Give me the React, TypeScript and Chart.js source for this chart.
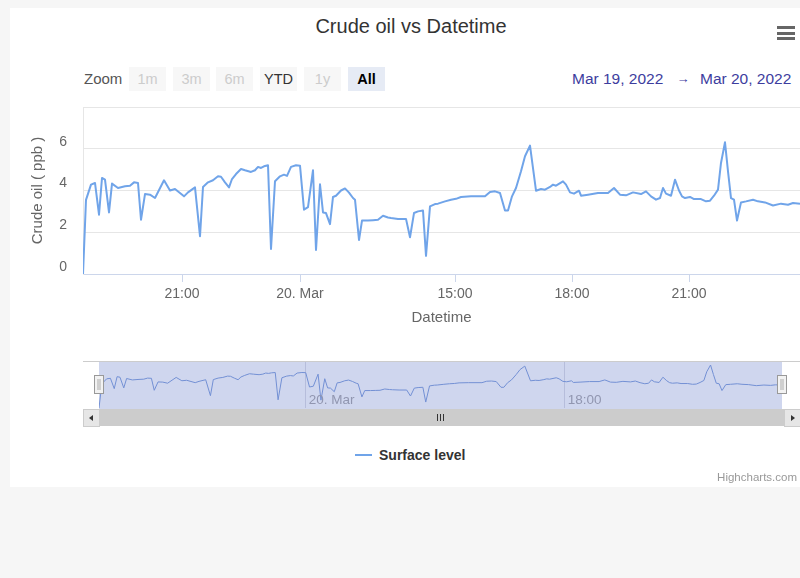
import React, { useEffect, useRef } from "react";
import { Chart, registerables } from "chart.js";

Chart.register(...registerables);

// ordinal (point-slot) position of each sample along the stock x-axis
const sampleIndex = [
  0, 3, 8, 12, 16, 19, 22, 26, 29, 35,
  42, 47, 51, 55, 58, 62, 67, 72, 81, 87,
  92, 101, 105, 112, 117, 120, 125, 130, 135, 138,
  142, 146, 149, 153, 158, 162, 168, 172, 175, 178,
  181, 185, 188, 192, 197, 201, 204, 208, 213, 217,
  221, 225, 230, 233, 237, 240, 243, 247, 250, 253,
  258, 262, 266, 270, 272, 276, 279, 285, 290, 295,
  300, 305, 308, 315, 323, 327, 331, 335, 340, 343,
  347, 352, 355, 362, 368, 373, 378, 388, 402, 407,
  412, 417, 422, 425, 429, 433, 438, 442, 447, 453,
  458, 462, 467, 470, 473, 480, 483, 487, 491, 496,
  498, 505, 515, 525, 531, 537, 543, 550, 558, 563,
  568, 573, 577, 580, 583, 588, 592, 596, 599, 602,
  607, 611, 618, 623, 627, 631, 635, 638, 642, 645,
  648, 651, 654, 658, 663, 670, 675, 682, 690, 698,
  705, 710, 717,
];

const crudeOil = [
  0, 3.55, 4.28, 4.36, 2.84, 4.6, 4.52, 2.95, 4.33, 4.12,
  4.2, 4.23, 4.39, 4.36, 2.6, 3.83, 3.8, 3.64, 4.49, 4.0,
  4.07, 3.72, 3.91, 4.15, 1.81, 4.17, 4.39, 4.49, 4.68, 4.66,
  4.39, 4.15, 4.55, 4.79, 5.03, 4.97, 4.89, 4.97, 5.13, 5.08,
  5.16, 5.21, 1.2, 4.44, 4.68, 4.76, 4.7, 5.13, 5.21, 5.19,
  3.08, 3.2, 4.97, 1.15, 4.3, 2.95, 2.92, 2.39, 3.69, 3.75,
  4.0, 4.1, 3.9, 3.64, 3.56, 1.63, 2.56, 2.56, 2.58, 2.6,
  2.79, 2.71, 2.68, 2.64, 2.64, 1.76, 2.92, 3.0, 3.04, 0.87,
  3.24, 3.35, 3.37, 3.48, 3.56, 3.6, 3.69, 3.72, 3.72, 3.93,
  3.96, 3.88, 3.04, 3.04, 3.72, 4.12, 4.92, 5.64, 6.15, 3.99,
  4.07, 4.04, 4.17, 4.28, 4.23, 4.44, 4.28, 3.91, 3.85, 3.99,
  3.75, 3.8, 3.88, 3.88, 4.12, 3.8, 3.77, 3.91, 3.83, 3.96,
  3.72, 3.56, 3.64, 4.12, 3.85, 3.75, 4.52, 4.0, 3.72, 3.64,
  3.69, 3.59, 3.59, 3.48, 3.51, 3.75, 4.04, 5.32, 6.31, 4.92,
  3.64, 3.56, 2.56, 3.43, 3.48, 3.56, 3.48, 3.43, 3.28, 3.37,
  3.32, 3.4, 3.37,
];

const xTickIndex = [99, 217, 372, 489, 606];
const xTickLabels = ["21:00", "20. Mar", "15:00", "18:00", "21:00"];
const navTickIndex = [217, 489];
const navTickLabels = ["20. Mar", "18:00"];
const yMin = 0;
const yMax = 8;
const yStep = 2;
const xMax = 717;

const titleText = "Crude oil vs Datetime";
const seriesName = "Surface level";
const xTitle = "Datetime";
const yTitle = "Crude oil ( ppb )";
const zoomButtons = ["1m", "3m", "6m", "YTD", "1y", "All"];
const zoomEnabled = [false, false, false, true, false, true];
const rangeFrom = "Mar 19, 2022";
const rangeTo = "Mar 20, 2022";

const FONT = '"Liberation Sans", Arial, Helvetica, sans-serif';
const LINE = "#70a4e9";
const NAVLINE = "#7390d4";

Chart.defaults.font.family = FONT;

function points() {
  return sampleIndex.map((x, i) => ({ x, y: crudeOil[i] }));
}

export default function App() {
  const mainRef = useRef<HTMLCanvasElement | null>(null);
  const navRef = useRef<HTMLCanvasElement | null>(null);

  useEffect(() => {
    if (!mainRef.current || !navRef.current) return;
    const main = new Chart(mainRef.current, {
      type: "line",
      data: {
        datasets: [
          {
            label: seriesName,
            data: points(),
            borderColor: LINE,
            borderWidth: 2,
            pointRadius: 0,
            tension: 0,
            fill: false,
            borderJoinStyle: "round",
          },
        ],
      },
      options: {
        animation: false,
        responsive: false,
        events: [],
        layout: { padding: { top: 107, right: 0, bottom: 10, left: 0 } },
        plugins: {
          legend: { display: false },
          tooltip: { enabled: false },
          title: { display: false },
        },
        scales: {
          x: {
            type: "linear",
            min: 0,
            max: xMax,
            afterBuildTicks: (s: any) => {
              s.ticks = xTickIndex.map((v) => ({ value: v }));
            },
            afterFit: (s: any) => {
              s.height = 56;
            },
            ticks: {
              autoSkip: false,
              maxRotation: 0,
              padding: 4,
              color: "#666666",
              font: { size: 14 },
              callback: (v: any) => {
                const i = xTickIndex.indexOf(Number(v));
                return i >= 0 ? xTickLabels[i] : "";
              },
            },
            grid: {
              drawOnChartArea: false,
              drawTicks: true,
              tickLength: 8,
              tickColor: "#ccd6eb",
            },
            border: { color: "#ccd6eb", width: 1 },
            title: {
              display: true,
              text: xTitle,
              color: "#666666",
              font: { size: 15 },
              padding: { top: 0, bottom: 3 },
            },
          },
          y: {
            min: yMin,
            max: yMax,
            afterFit: (s: any) => {
              s.width = 83;
            },
            ticks: {
              stepSize: yStep,
              padding: 16,
              labelOffset: -7,
              color: "#666666",
              font: { size: 14 },
              callback: (v: any) => (Number(v) === yMax ? "" : String(v)),
            },
            grid: { color: "#e6e6e6", drawTicks: false },
            border: { color: "#e6e6e6" },
            title: {
              display: true,
              text: yTitle,
              color: "#666666",
              font: { size: 15 },
              padding: { top: 29, bottom: 0 },
            },
          },
        },
      },
    } as any);

    const navLabels = {
      id: "navLabels",
      afterDraw(chart: any) {
        const { ctx, chartArea } = chart;
        const xs = chart.scales.x;
        ctx.save();
        ctx.font = `13.5px ${FONT}`;
        ctx.fillStyle = "#9196b0";
        ctx.textBaseline = "middle";
        ctx.textAlign = "left";
        navTickIndex.forEach((v, i) => {
          ctx.fillText(navTickLabels[i], xs.getPixelForValue(v) + 3, chartArea.bottom - 8);
        });
        ctx.restore();
      },
    };

    const nav = new Chart(navRef.current, {
      type: "line",
      data: {
        datasets: [
          {
            data: points(),
            borderColor: NAVLINE,
            borderWidth: 1,
            pointRadius: 0,
            tension: 0,
            fill: false,
          },
        ],
      },
      options: {
        animation: false,
        responsive: false,
        events: [],
        layout: { padding: 0 },
        plugins: { legend: { display: false }, tooltip: { enabled: false } },
        scales: {
          x: {
            type: "linear",
            min: 0,
            max: xMax,
            afterBuildTicks: (s: any) => {
              s.ticks = navTickIndex.map((v) => ({ value: v }));
            },
            afterFit: (s: any) => {
              s.height = 0;
            },
            ticks: { display: false },
            grid: { drawOnChartArea: true, drawTicks: false, color: "rgba(150,160,195,0.45)" },
            border: { display: false },
          },
          y: { display: false, min: 0, max: 6.9 },
        },
      },
      plugins: [navLabels],
    } as any);

    return () => {
      main.destroy();
      nav.destroy();
    };
  }, []);

  const abs = (o: React.CSSProperties): React.CSSProperties => ({ position: "absolute", ...o });
  const btnLefts = [129, 173, 216, 260, 304, 348];

  return (
    <div style={abs({ left: 0, top: 0, width: 800, height: 578, background: "#f6f6f6", overflow: "hidden", fontFamily: FONT })}>
      <div style={abs({ left: 10, top: 8, width: 790, height: 479, background: "#ffffff" })} />
      {/* title */}
      <div style={abs({ left: 411, top: 14, transform: "translateX(-50%)", fontSize: 20, lineHeight: "24px", color: "#333333", whiteSpace: "nowrap" })}>
        {titleText}
      </div>
      {/* menu icon */}
      {[26, 31.5, 37].map((t, i) => (
        <div key={i} style={abs({ left: 777, top: t, width: 18, height: 3, background: "#666666" })} />
      ))}
      {/* range selector */}
      <div style={abs({ left: 84, top: 70, fontSize: 15, lineHeight: "18px", color: "#555555" })}>Zoom</div>
      {zoomButtons.map((b, i) => {
        const selected = b === "All";
        return (
          <div
            key={b}
            style={abs({
              left: btnLefts[i],
              top: 67,
              width: 37,
              height: 24,
              background: selected ? "#e6ebf5" : "#f7f7f7",
              color: selected ? "#000000" : zoomEnabled[i] ? "#333333" : "#cccccc",
              fontWeight: selected ? "bold" : "normal",
              fontSize: 14.5,
              lineHeight: "24px",
              textAlign: "center",
            })}
          >
            {b}
          </div>
        );
      })}
      <div style={abs({ left: 572, top: 70, fontSize: 15.5, lineHeight: "18px", color: "#3d3d9e", whiteSpace: "nowrap" })}>{rangeFrom}</div>
      <div style={abs({ left: 683, top: 70, transform: "translateX(-50%)", fontSize: 13, lineHeight: "18px", color: "#3d3d9e" })}>→</div>
      <div style={abs({ left: 700, top: 70, fontSize: 15.5, lineHeight: "18px", color: "#3d3d9e", whiteSpace: "nowrap" })}>{rangeTo}</div>

      <canvas ref={mainRef} width={800} height={340} style={abs({ left: 0, top: 0, width: 800, height: 340, display: "block" })} />

      {/* navigator */}
      <div style={abs({ left: 99, top: 361, width: 683, height: 48, background: "#cfd6ee" })} />
      <canvas ref={navRef} width={683} height={47} style={abs({ left: 99, top: 361, width: 683, height: 47, display: "block" })} />
      <div style={abs({ left: 83, top: 361, width: 717, height: 1, background: "#cccccc" })} />
      {[99, 782].map((x, i) => (
        <div key={i} style={abs({ left: x - 5, top: 375, width: 8, height: 17, background: "#f2f2f2", border: "1px solid #999999" })}>
          <div style={abs({ left: 2, top: 3, width: 4, height: 11, background: "#cfcfcf" })} />
        </div>
      ))}
      {/* scrollbar */}
      <div style={abs({ left: 83, top: 409, width: 717, height: 17, background: "#f2f2f2" })} />
      <div style={abs({ left: 99, top: 409, width: 685, height: 17, background: "#cccccc" })} />
      {[437, 440, 443].map((x, i) => (
        <div key={i} style={abs({ left: x, top: 414, width: 1, height: 7, background: "#333333" })} />
      ))}
      <div style={abs({ left: 83, top: 409, width: 15, height: 16, background: "#e6e6e6", border: "1px solid #cccccc" })}>
        <div style={abs({ left: 5, top: 5, width: 0, height: 0, borderTop: "3px solid transparent", borderBottom: "3px solid transparent", borderRight: "4px solid #333333" })} />
      </div>
      <div style={abs({ left: 784, top: 409, width: 15, height: 16, background: "#e6e6e6", border: "1px solid #cccccc" })}>
        <div style={abs({ left: 6, top: 5, width: 0, height: 0, borderTop: "3px solid transparent", borderBottom: "3px solid transparent", borderLeft: "4px solid #333333" })} />
      </div>

      {/* legend */}
      <div style={abs({ left: 355, top: 454, width: 17, height: 2, background: LINE })} />
      <div style={abs({ left: 379, top: 446, fontSize: 14, lineHeight: "18px", fontWeight: "bold", color: "#333333", whiteSpace: "nowrap" })}>{seriesName}</div>

      {/* credits */}
      <div style={abs({ left: 797, top: 470, transform: "translateX(-100%)", fontSize: 11.5, lineHeight: "14px", color: "#999999", whiteSpace: "nowrap" })}>
        Highcharts.com
      </div>
    </div>
  );
}
